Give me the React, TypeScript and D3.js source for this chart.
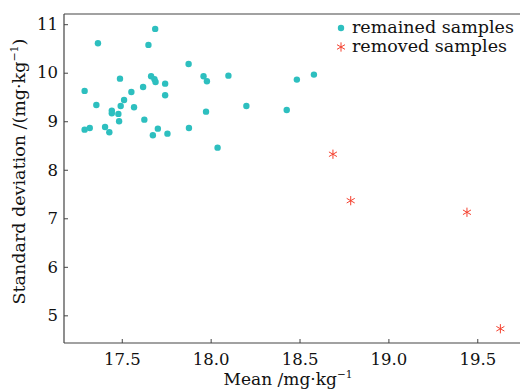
import React, { useEffect, useRef } from "react";
import * as d3 from "d3";

// remained samples (mean, standard deviation)
const remainedMean = [
  17.291, 17.366, 17.688, 17.65, 17.876, 17.96, 17.979, 18.1, 18.201, 17.665,
  17.684, 17.69, 17.744, 17.744, 17.62, 17.554, 17.49, 17.513, 17.494, 17.569,
  17.357, 17.444, 17.444, 17.481, 17.485, 17.627, 17.291, 17.32, 17.406, 17.43,
  17.703, 17.675, 17.757, 17.878, 17.974, 18.039, 18.485, 18.581, 18.428,
];
const remainedSd = [
  9.625, 10.608, 10.903, 10.573, 10.181, 9.928, 9.825, 9.94, 9.315, 9.928,
  9.866, 9.81, 9.775, 9.536, 9.707, 9.604, 9.878, 9.439, 9.315, 9.289,
  9.336, 9.219, 9.165, 9.151, 9.0, 9.033, 8.827, 8.862, 8.882, 8.773,
  8.847, 8.711, 8.744, 8.862, 9.198, 8.456, 9.858, 9.961, 9.233,
];
// removed samples
const removedMean = [18.688, 18.788, 19.442, 19.63];
const removedSd = [8.32, 7.363, 7.124, 4.724];

const xTicks = [17.5, 18.0, 18.5, 19.0, 19.5];
const yTicks = [5, 6, 7, 8, 9, 10, 11];
const legendLabels = ["remained samples", "removed samples"];

const W = 520;
const H = 389;
const cyan = "#2dbfbf";
const red = "#f5412f";
const font = "DejaVu Serif";

export default function App() {
  const ref = useRef<SVGSVGElement>(null);

  useEffect(() => {
    const svg = d3.select(ref.current);
    svg.selectAll("*").remove();
    const margin = { left: 64, top: 14, right: 0, bottom: 46 };

    const x = d3
      .scaleLinear()
      .domain([17.175, 19.746])
      .range([margin.left, W + 1]);
    const y = d3
      .scaleLinear()
      .domain([4.43, 11.21])
      .range([H - margin.bottom, margin.top]);

    const xAxis = d3
      .axisBottom(x)
      .tickValues(xTicks)
      .tickFormat(d3.format(".1f"))
      .tickSize(-4)
      .tickPadding(10);
    const yAxis = d3
      .axisLeft(y)
      .tickValues(yTicks)
      .tickFormat(d3.format("d"))
      .tickSize(-4)
      .tickPadding(6);

    const xg = svg
      .append("g")
      .attr("transform", `translate(0,${H - margin.bottom})`)
      .call(xAxis);
    const yg = svg
      .append("g")
      .attr("transform", `translate(${margin.left},0)`)
      .call(yAxis);
    [xg, yg].forEach((g) => {
      g.selectAll(".domain").attr("stroke", "#444").attr("stroke-width", 1.2);
      g.selectAll(".tick line").attr("stroke", "#444");
      g.selectAll(".tick text")
        .attr("font-family", font)
        .attr("font-size", 16.5)
        .attr("fill", "#111");
    });
    xg.select(".domain").attr("d", `M${margin.left},0H${W + 1}`);
    yg.select(".domain").attr(
      "d",
      `M0,${margin.top}V${H - margin.bottom}`
    );

    // top frame line
    svg
      .append("line")
      .attr("x1", margin.left)
      .attr("x2", W + 1)
      .attr("y1", margin.top)
      .attr("y2", margin.top)
      .attr("stroke", "#444")
      .attr("stroke-width", 1.2);

    // axis labels
    svg
      .append("text")
      .text("Mean /mg\u00b7kg")
      .attr("x", (margin.left + W) / 2 - 4)
      .attr("y", 385)
      .attr("text-anchor", "middle")
      .attr("font-family", font)
      .attr("font-size", 17)
      .attr("fill", "#111")
      .append("tspan")
      .text("\u22121")
      .attr("dy", -7)
      .attr("font-size", 10.5);

    const yl = svg
      .append("text")
      .attr("transform", `translate(25,${(margin.top + H - margin.bottom) / 2 - 7}) rotate(-90)`)
      .attr("text-anchor", "middle")
      .attr("font-family", font)
      .attr("font-size", 17.5)
      .attr("fill", "#111");
    yl.append("tspan").text("Standard deviation /(mg\u00b7kg");
    yl.append("tspan").text("\u22121").attr("dy", -7).attr("font-size", 11);
    yl.append("tspan").text(")").attr("dy", 7);

    // points
    const remained = remainedMean.map((m, i) => ({ m, s: remainedSd[i] }));
    const removed = removedMean.map((m, i) => ({ m, s: removedSd[i] }));

    svg
      .append("g")
      .selectAll("circle")
      .data(remained)
      .enter()
      .append("circle")
      .attr("cx", (d) => x(d.m))
      .attr("cy", (d) => y(d.s))
      .attr("r", 3.2)
      .attr("fill", cyan);

    const star = d3.symbol().type(d3.symbolAsterisk).size(60);
    svg
      .append("g")
      .selectAll("path")
      .data(removed)
      .enter()
      .append("path")
      .attr("d", star)
      .attr("transform", (d) => `translate(${x(d.m)},${y(d.s)})`)
      .attr("fill", "none")
      .attr("stroke", red)
      .attr("stroke-width", 1);

    // legend
    const lg = svg.append("g").attr("transform", "translate(341,28)");
    lg.append("circle").attr("r", 3.2).attr("fill", cyan);
    lg.append("path")
      .attr("d", star)
      .attr("transform", "translate(0,19)")
      .attr("fill", "none")
      .attr("stroke", red);
    legendLabels.forEach((t, i) => {
      lg.append("text")
        .text(t)
        .attr("x", 11)
        .attr("y", i * 19 + 5)
        .attr("font-family", font)
        .attr("font-size", 17.5)
        .attr("fill", "#111");
    });
  }, []);

  return (
    <svg
      ref={ref}
      width={W}
      height={H}
      style={{ position: "absolute", left: 0, top: 0, background: "#fff" }}
    />
  );
}
